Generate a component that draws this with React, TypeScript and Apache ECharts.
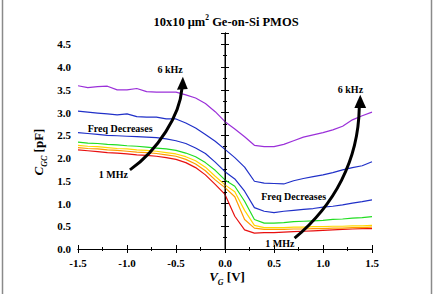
import React, { useEffect, useRef } from "react";
import * as echarts from "echarts";

const VG = [-1.5,-1.4,-1.3,-1.2,-1.1,-1.0,-0.9,-0.8,-0.7,-0.6,-0.5,-0.4,-0.3,-0.2,-0.1,0.0,0.1,0.2,0.3,0.4,0.5,0.6,0.7,0.8,0.9,1.0,1.1,1.2,1.3,1.4,1.5];

const c6kHz = [3.59,3.55,3.57,3.58,3.50,3.50,3.53,3.46,3.45,3.45,3.45,3.39,3.32,3.20,3.02,2.80,2.64,2.47,2.28,2.25,2.25,2.30,2.38,2.46,2.51,2.56,2.62,2.70,2.84,2.93,3.01];
const cBlue1 = [3.03,3.01,2.99,2.97,2.95,2.97,2.91,2.90,2.90,2.86,2.86,2.77,2.66,2.52,2.37,2.19,2.01,1.80,1.49,1.45,1.44,1.43,1.50,1.55,1.59,1.63,1.68,1.74,1.79,1.83,1.92];
const cBlue2 = [2.56,2.54,2.52,2.50,2.49,2.48,2.47,2.46,2.45,2.42,2.38,2.32,2.22,2.10,1.91,1.70,1.54,1.27,0.91,0.83,0.80,0.83,0.85,0.87,0.89,0.92,0.94,0.97,1.01,1.04,1.08];
const cGreen = [2.35,2.33,2.32,2.30,2.29,2.27,2.26,2.24,2.22,2.20,2.17,2.11,2.03,1.90,1.73,1.52,1.38,1.05,0.65,0.57,0.57,0.58,0.60,0.61,0.62,0.63,0.65,0.66,0.68,0.69,0.71];
const cYellow = [2.28,2.26,2.25,2.23,2.21,2.20,2.18,2.17,2.15,2.12,2.09,2.03,1.94,1.80,1.60,1.41,1.26,0.85,0.52,0.47,0.47,0.47,0.48,0.48,0.49,0.49,0.50,0.50,0.51,0.51,0.52];
const cOrange = [2.23,2.21,2.20,2.18,2.17,2.15,2.13,2.12,2.10,2.07,2.04,1.97,1.87,1.72,1.52,1.35,1.15,0.65,0.46,0.43,0.43,0.43,0.44,0.44,0.45,0.45,0.46,0.46,0.47,0.47,0.48];
const c1MHz = [2.18,2.16,2.14,2.12,2.11,2.09,2.07,2.06,2.04,2.01,1.97,1.90,1.79,1.63,1.42,1.20,0.72,0.42,0.35,0.36,0.36,0.37,0.38,0.39,0.40,0.41,0.42,0.43,0.44,0.45,0.45];

const seriesData = [c6kHz, cBlue1, cBlue2, cGreen, cYellow, cOrange, c1MHz];
const seriesColors = ["#9b30d9", "#2030c8", "#2030c8", "#22dd22", "#ffd800", "#ff9a00", "#e81010"];

// annotation anchors in data coordinates
const arrowLeft = { start: [-0.97, 1.74], cp1: [-0.68, 2.18], cp2: [-0.46, 2.95], end: [-0.44, 3.52], tip: [-0.43, 3.79], bl: [-0.49, 3.50], br: [-0.38, 3.52] };
const arrowRight = { start: [0.71, 0.24], cp1: [1.12, 0.97], cp2: [1.36, 1.96], end: [1.37, 3.10], tip: [1.38, 3.39], bl: [1.32, 3.10], br: [1.44, 3.10] };
const notes: [string, number, number][] = [
  ["6 kHz", -0.56, 3.95],
  ["6 kHz", 1.28, 3.5],
  ["Freq Decreases", -1.07, 2.66],
  ["Freq Decreases", 0.7, 1.15],
  ["1 MHz", -1.14, 1.63],
  ["1 MHz", 0.56, 0.12],
];

const FONT = "'Liberation Serif', 'Times New Roman', 'DejaVu Serif', serif";

export default function App() {
  const ref = useRef<HTMLDivElement>(null);
  useEffect(() => {
    if (!ref.current) return;
    const chart = echarts.init(ref.current, null, { renderer: "svg" });
    const axisCommon = {
      axisLine: { show: true, lineStyle: { color: "#000", width: 1 } },
      axisTick: { show: true, inside: true, length: 4, lineStyle: { color: "#000" } },
      minorTick: { show: true, splitNumber: 2, length: 2, lineStyle: { color: "#000" } },
      splitLine: { show: false },
    };
    const labelStyle = { color: "#000", fontFamily: FONT, fontWeight: "bold" as const, fontSize: 11 };
    chart.setOption({
      animation: false,
      backgroundColor: "#fff",
      grid: { left: 78, right: 61, top: 33, bottom: 45, containLabel: false },
      xAxis: [
        {
          type: "value", min: -1.5, max: 1.5, interval: 0.5, position: "bottom",
          ...axisCommon,
          axisLabel: { ...labelStyle, margin: 8, formatter: (v: number) => v.toFixed(1) },
        },
        {
          type: "value", min: -1.5, max: 1.5, interval: 0.5, position: "top",
          ...axisCommon, axisLabel: { show: false },
        },
      ],
      yAxis: [
        {
          type: "value", min: 0, max: 4.75, interval: 0.5, position: "left",
          ...axisCommon,
          axisLabel: { ...labelStyle, margin: 7, showMaxLabel: false, formatter: (v: number) => (Math.abs(v * 2 - Math.round(v * 2)) < 1e-6 ? v.toFixed(1) : "") },
        },
        {
          type: "value", min: 0, max: 4.75, interval: 0.5, position: "right",
          ...axisCommon, axisLabel: { show: false },
        },
      ],
      series: [
        ...seriesData.map((d, i) => ({
          type: "line",
          data: VG.map((x, k) => [x, d[k]]),
          symbol: "none",
          lineStyle: { color: seriesColors[i], width: 1.2 },
          z: 10 - i,
        })),
        {
          type: "line",
          data: [[0, 0], [0, 4.75]],
          symbol: "none",
          lineStyle: { color: "#000", width: 1 },
          z: 20,
        },
      ],
    });

    const p = (d: number[]) => chart.convertToPixel({ xAxisIndex: 0, yAxisIndex: 0 }, d) as number[];
    const arrow = (a: typeof arrowLeft) => {
      const s = p(a.start), c1 = p(a.cp1), c2 = p(a.cp2), e = p(a.end);
      return [
        {
          type: "bezierCurve",
          shape: { x1: s[0], y1: s[1], cpx1: c1[0], cpy1: c1[1], cpx2: c2[0], cpy2: c2[1], x2: e[0], y2: e[1] },
          style: { stroke: "#000", lineWidth: 3, fill: null },
          z: 100,
        },
        {
          type: "polygon",
          shape: { points: [p(a.tip), p(a.bl), p(a.br)] },
          style: { fill: "#000" },
          z: 100,
        },
      ];
    };
    const noteEls = notes.map(([t, x, y]) => {
      const q = p([x, y]);
      return {
        type: "text", x: q[0], y: q[1], z: 101,
        style: { text: t, fill: "#000", fontFamily: FONT, fontWeight: "bold", fontSize: 10, align: "center", verticalAlign: "middle" },
      };
    });
    const rt = (size: number) => ({
      i: { fontFamily: FONT, fontWeight: "bold", fontStyle: "italic", fontSize: size, fill: "#000", verticalAlign: "top", lineHeight: 17 },
      s: { fontFamily: FONT, fontWeight: "bold", fontStyle: "italic", fontSize: 8, fill: "#000", verticalAlign: "bottom", lineHeight: 17 },
      b: { fontFamily: FONT, fontWeight: "bold", fontSize: size, fill: "#000", verticalAlign: "top", lineHeight: 17 },
    });
    chart.setOption({
      graphic: [
        { type: "line", shape: { x1: 2.5, y1: 0, x2: 2.5, y2: 294 }, style: { stroke: "#8a8a8a", lineWidth: 1.5 } },
        { type: "line", shape: { x1: 431.5, y1: 0, x2: 431.5, y2: 294 }, style: { stroke: "#8a8a8a", lineWidth: 1.5 } },
        {
          type: "text", x: 226, y: 21, z: 101,
          style: {
            text: "{b|10x10 μm}{sup|2}{b| Ge-on-Si PMOS}",
            align: "center", verticalAlign: "middle",
            rich: {
              b: { fontFamily: FONT, fontWeight: "bold", fontSize: 12.5, fill: "#000", verticalAlign: "bottom", lineHeight: 15 },
              sup: { fontFamily: FONT, fontWeight: "bold", fontSize: 7.5, fill: "#000", verticalAlign: "top", lineHeight: 15 },
            },
          },
        },
        {
          type: "text", x: 40, y: 152, rotation: Math.PI / 2, z: 101,
          style: { text: "{i|C}{s|GC}{b| [pF]}", align: "center", verticalAlign: "middle", rich: rt(13) },
        },
        {
          type: "text", x: 227, y: 278, z: 101,
          style: { text: "{i|V}{s|G}{b| [V]}", align: "center", verticalAlign: "middle", rich: rt(13) },
        },
        ...arrow(arrowLeft),
        ...arrow(arrowRight),
        ...noteEls,
      ],
    });
    return () => chart.dispose();
  }, []);
  return <div ref={ref} style={{ width: 433, height: 294, position: "absolute", left: 0, top: 0 }} />;
}
